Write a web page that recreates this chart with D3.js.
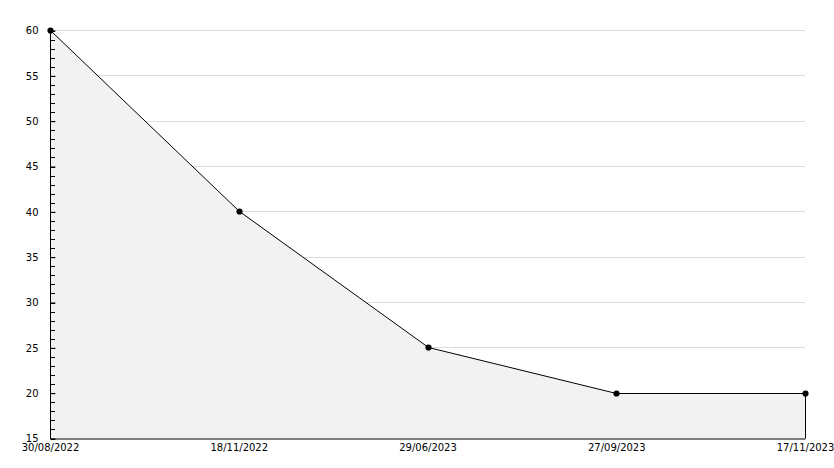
<!DOCTYPE html>
<html><head><meta charset="utf-8">
<script src="https://cdn.jsdelivr.net/npm/d3@7"></script>
<style>body{margin:0;background:#fff}svg{display:block}</style>
</head><body><svg id="c" width="834" height="468"></svg>
<script>
const categories = ["30/08/2022","18/11/2022","29/06/2023","27/09/2023","17/11/2023"];
const values = [60,40,25,20,20];
const yMajorTicks = [15,20,25,30,35,40,45,50,55,60];

const svg = d3.select("#c");
const L=50,R=805,T=30,B=438;
const x = d3.scalePoint().domain(categories).range([L,R]);
const y = d3.scaleLinear().domain([15,60]).range([B,T]);
const font = "'DejaVu Sans', sans-serif";

// grid
svg.append("g").selectAll("line").data(yMajorTicks.filter(d=>d>15)).join("line")
  .attr("x1",L).attr("x2",R).attr("y1",d=>Math.round(y(d))+0.5).attr("y2",d=>Math.round(y(d))+0.5)
  .attr("stroke","#dcdcdc").attr("stroke-width",1);

// area
const data = categories.map((c,i)=>({c,v:values[i]}));
const px = d=>Math.round(x(d.c))+0.5, py = d=>Math.round(y(d.v))+0.5;
const area = d3.area().x(px).y0(Math.round(y(15))+0.5).y1(py);
svg.append("path").datum(data).attr("d",area)
  .attr("fill","#f2f2f2").attr("stroke","none");
const poly = [[px(data[0]),Math.round(y(15))+0.5], ...data.map(d=>[px(d),py(d)]), [px(data[data.length-1]),Math.round(y(15))+0.5]];
svg.append("path").attr("d","M"+poly.map(p=>p.join(",")).join("L"))
  .attr("fill","none").attr("stroke","#000").attr("stroke-width",1);

// y axis
const ya = svg.append("g").attr("transform",`translate(${L+0.5},0.5)`)
  .call(d3.axisLeft(y).tickValues(yMajorTicks).tickSize(-5).tickPadding(12).tickFormat(d3.format("d")));
ya.select(".domain").remove();
ya.selectAll("text").attr("font-family",font).attr("font-size",10).attr("fill","#000");
ya.selectAll("line").attr("stroke","#000");
svg.append("g").attr("transform",`translate(${L+0.5},0.5)`)
  .call(d3.axisLeft(y).tickValues(d3.range(15,61,1)).tickSize(-4).tickFormat(""))
  .call(g=>g.select(".domain").remove())
  .selectAll("line").attr("stroke","#000").attr("shape-rendering","crispEdges");
svg.append("line").attr("x1",L+0.5).attr("x2",L+0.5).attr("y1",T).attr("y2",B+1).attr("stroke","#000");

// x axis
const xa = svg.append("g").attr("transform",`translate(0,${B+0.5})`)
  .call(d3.axisBottom(x).tickSize(0).tickPadding(5));
xa.select(".domain").attr("stroke","#000");
xa.selectAll("text").attr("font-family",font).attr("font-size",10).attr("fill","#000");

// markers
svg.append("g").selectAll("path").data(data).join("path")
  .attr("transform",d=>`translate(${px(d)},${py(d)})`)
  .attr("d",d3.symbol(d3.symbolCircle,30))
  .attr("fill","#000");
</script></body></html>
